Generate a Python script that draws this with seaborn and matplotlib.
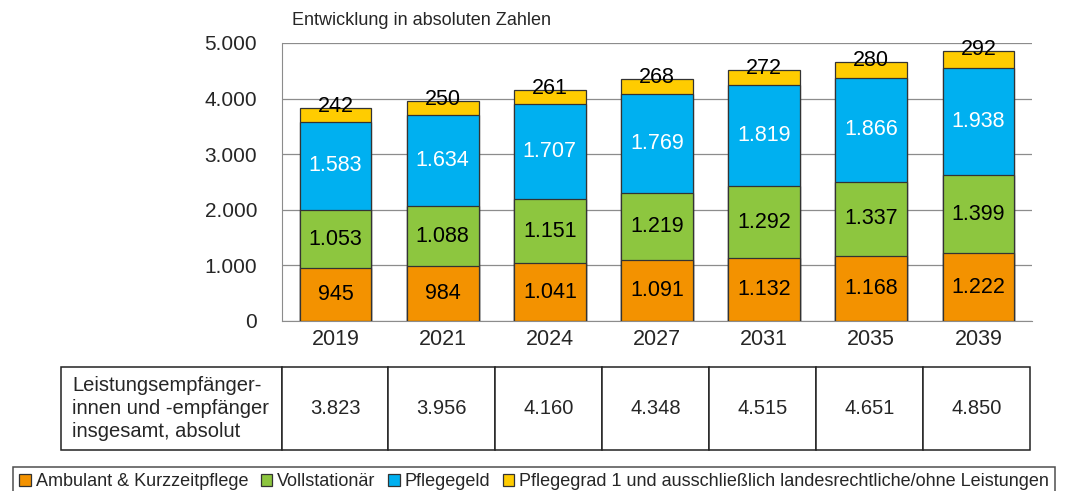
import numpy as np
import pandas as pd
import matplotlib
matplotlib.use("Agg")
import matplotlib.pyplot as plt
import seaborn as sns
from matplotlib.patches import Patch

# data
years = ["2019", "2021", "2024", "2027", "2031", "2035", "2039"]
ambulant = [945, 984, 1041, 1091, 1132, 1168, 1222]
vollstationaer = [1053, 1088, 1151, 1219, 1292, 1337, 1399]
pflegegeld = [1583, 1634, 1707, 1769, 1819, 1866, 1938]
pflegegrad1 = [242, 250, 261, 268, 272, 280, 292]
totals = [3823, 3956, 4160, 4348, 4515, 4651, 4850]

series_names = [
    "Ambulant & Kurzzeitpflege",
    "Vollstationär",
    "Pflegegeld",
    "Pflegegrad 1 und ausschließlich landesrechtliche/ohne Leistungen",
]
colors = ["#F39200", "#8DC63F", "#00B0F0", "#FFCC00"]
label_colors = ["black", "black", "white", "black"]
row_label = "Leistungsempfänger-\ninnen und -empfänger\ninsgesamt, absolut"


def de(n):
    return f"{n:,.0f}".replace(",", ".")


sns.set_style("white")
plt.rcParams["font.family"] = ["Liberation Sans", "DejaVu Sans"]

df = pd.DataFrame({
    "Jahr": years,
    "s1": ambulant,
    "s2": vollstationaer,
    "s3": pflegegeld,
    "s4": pflegegrad1,
})
cols = ["s1", "s2", "s3", "s4"]
cum = df[cols].cumsum(axis=1)

fig = plt.figure(figsize=(10.72, 4.91), dpi=100)
ax = fig.add_axes([282 / 1072, 1 - 321 / 491, 750 / 1072, 278 / 491])

# stacked bars: draw the cumulative heights from top to bottom
for i in range(3, -1, -1):
    sns.barplot(x=df["Jahr"], y=cum[cols[i]], color=colors[i], width=0.67,
                edgecolor="#333333", linewidth=0.9, saturation=1, ax=ax, zorder=3)

# value labels
for j in range(len(years)):
    bottom = 0
    for i in range(3):
        v = df[cols[i]][j]
        ax.text(j, bottom + v / 2, de(v), ha="center", va="center",
                fontsize=15.5, color=label_colors[i], zorder=5)
        bottom += v
    ax.text(j, cum["s4"][j] + 30, de(df["s4"][j]), ha="center", va="center",
            fontsize=15.5, color="black", zorder=5)

ax.set_xlim(-0.5, 6.5)
ax.set_ylim(0, 5000)
ax.set_yticks(range(0, 5001, 1000))
ax.set_yticklabels([de(v) for v in range(0, 5001, 1000)], fontsize=15)
ax.tick_params(axis="x", labelsize=15.5, pad=6, length=0)
ax.tick_params(axis="y", pad=18, length=0)
ax.set_xlabel("")
ax.set_ylabel("")
ax.yaxis.grid(True, color="#8c8c8c", linewidth=0.9, zorder=0)
ax.set_axisbelow(True)
for s in ["top", "right"]:
    ax.spines[s].set_visible(False)
ax.spines["left"].set_color("#8c8c8c")
ax.spines["bottom"].set_color("#8c8c8c")

ax.text(0.013, 1.05, "Entwicklung in absoluten Zahlen", transform=ax.transAxes,
        fontsize=13, ha="left", va="bottom")

# table beneath the chart
tbl = ax.table(cellText=[[row_label] + [de(t) for t in totals]],
               colWidths=[221 / 750] + [1 / 7] * 7,
               cellLoc="center",
               bbox=[(61 - 282) / 750, (321 - 450) / 278, (1030 - 61) / 750, 83 / 278])
tbl.auto_set_font_size(False)
for (r, c), cell in tbl.get_celld().items():
    cell.set_edgecolor("#222222")
    cell.set_linewidth(1.1)
    cell.get_text().set_fontsize(14.5)
    if c == 0:
        cell.get_text().set_ha("left")
        cell.get_text().set_linespacing(1.25)
        cell._loc = "left"
        cell.PAD = 0.05

# legend
handles = [Patch(facecolor=c, edgecolor="#333333", linewidth=0.9) for c in colors]
leg = fig.legend(handles, series_names, loc="lower left", ncol=4,
                 bbox_to_anchor=(4 / 1072, -0.03), frameon=True, fontsize=13,
                 handlelength=0.65, handleheight=0.65, handletextpad=0.25,
                 columnspacing=0.7, borderpad=0.35, fancybox=False)
leg.get_frame().set_edgecolor("#222222")
leg.get_frame().set_linewidth(1.1)

fig.savefig("out.png", dpi=100)
